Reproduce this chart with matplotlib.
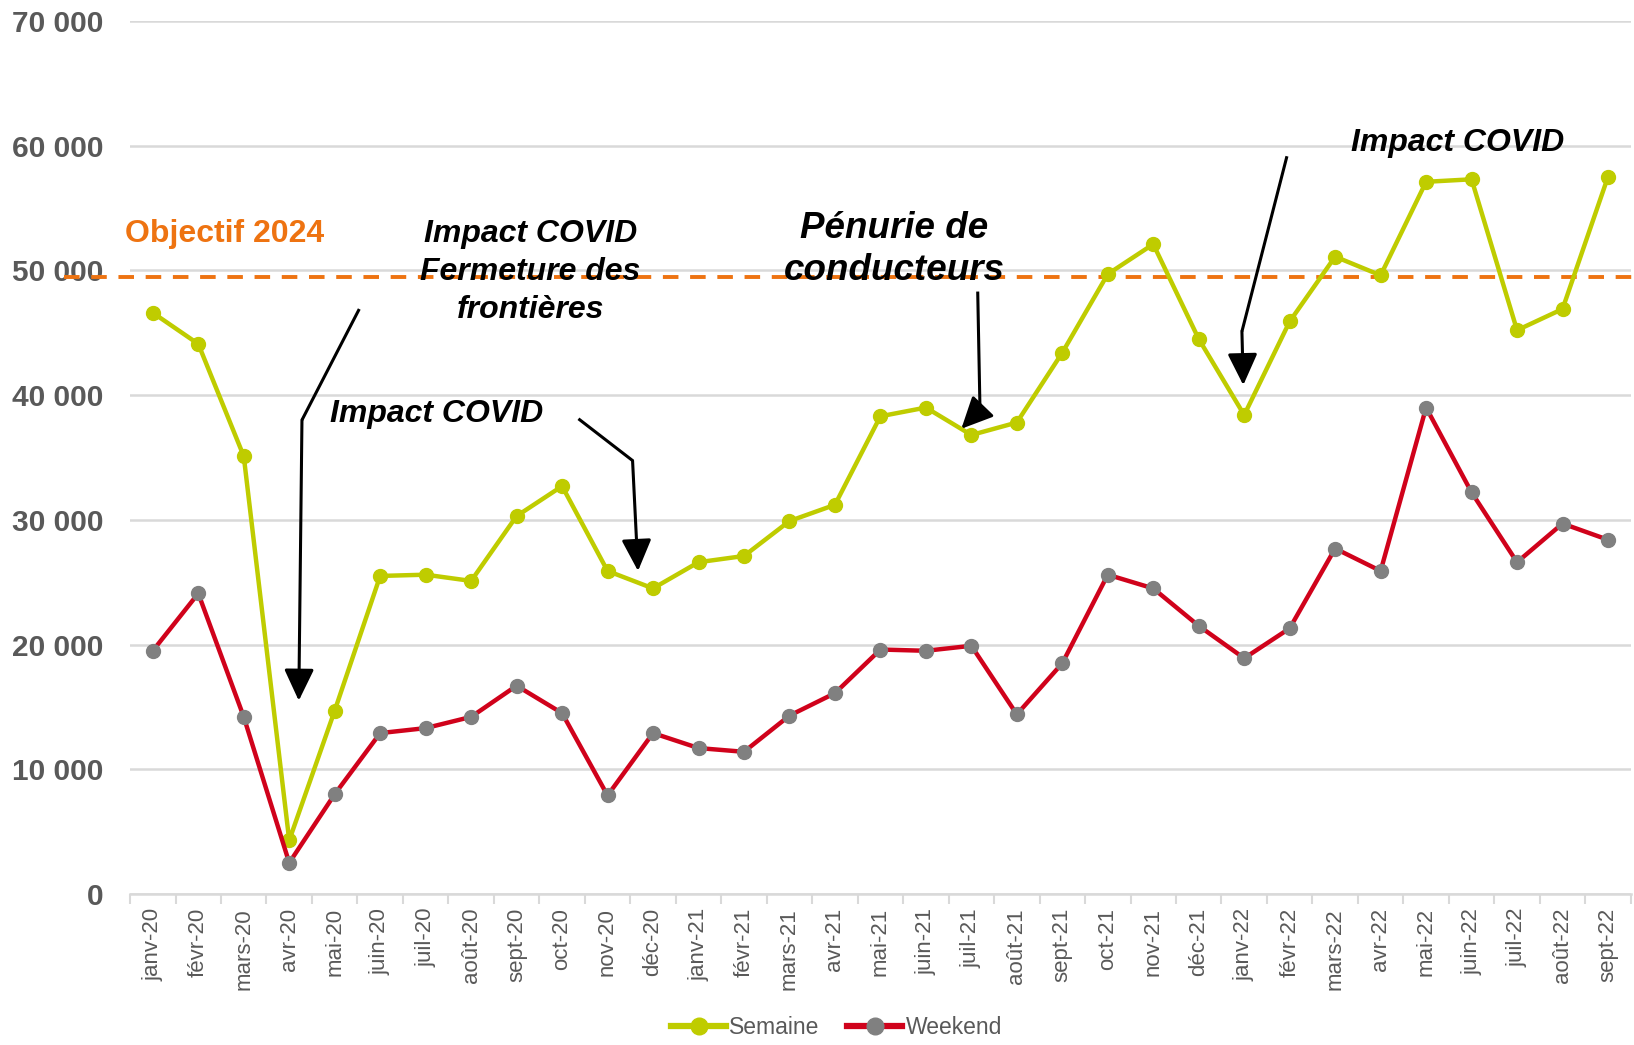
import matplotlib.pyplot as plt
from matplotlib.ticker import FuncFormatter

plt.rcParams['font.family'] = ['Liberation Sans', 'DejaVu Sans']

months = ['janv-20', 'févr-20', 'mars-20', 'avr-20', 'mai-20', 'juin-20', 'juil-20', 'août-20',
          'sept-20', 'oct-20', 'nov-20', 'déc-20', 'janv-21', 'févr-21', 'mars-21', 'avr-21',
          'mai-21', 'juin-21', 'juil-21', 'août-21', 'sept-21', 'oct-21', 'nov-21', 'déc-21',
          'janv-22', 'févr-22', 'mars-22', 'avr-22', 'mai-22', 'juin-22', 'juil-22', 'août-22',
          'sept-22']
semaine = [46600, 44100, 35100, 4300, 14700, 25500, 25600, 25100, 30300, 32700, 25900,
           24500, 26600, 27100, 29900, 31200, 38300, 39000, 36800, 37800, 43400, 49700,
           52100, 44500, 38400, 45900, 51100, 49600, 57100, 57300, 45200, 46900, 57500]
weekend = [19500, 24100, 14200, 2500, 8000, 12900, 13300, 14200, 16700, 14500, 7900,
           12900, 11700, 11400, 14300, 16100, 19600, 19500, 19900, 14400, 18500, 25600,
           24500, 21500, 18900, 21300, 27700, 25900, 39000, 32200, 26600, 29700, 28400]
objectif = 49500

GREEN = '#BFCC00'
RED = '#D0021B'
GREY_M = '#808080'
ORANGE = '#EE7311'
TXT = '#595959'

fig = plt.figure(figsize=(16.34, 10.45), dpi=100)
ax = fig.add_axes([0.0796, 0.1445, 0.9184, 0.8355])

x = list(range(len(months)))
ax.plot(x, semaine, color=GREEN, lw=3.2, marker='o', ms=10, mfc=GREEN, mec=GREEN,
        label='Semaine', zorder=4)
ax.plot(x, weekend, color=RED, lw=3.2, marker='o', ms=10, mfc=GREY_M, mec=GREY_M,
        label='Weekend', zorder=4)

# objective line (runs a bit past the left edge of the plot)
ax.plot([-1.95, 32.6], [objectif, objectif], color=ORANGE, lw=2.8, ls=(0, (4, 3)),
        clip_on=False, zorder=3)
ax.text(-0.62, 52900, 'Objectif 2024', color=ORANGE, fontsize=23, fontweight='bold',
        va='center', ha='left')

ax.set_xlim(-0.5, 32.5)
ax.set_ylim(0, 70000)
ax.set_yticks(range(0, 70001, 10000))
ax.yaxis.set_major_formatter(FuncFormatter(lambda v, p: f'{int(v):,}'.replace(',', ' ')))
ax.set_xticks(x)
ax.set_xticklabels(months, rotation=90, fontsize=16, color=TXT)
ax.set_xticks([i + 0.5 for i in range(-1, len(months))], minor=True)
ax.tick_params(axis='x', which='major', length=0, pad=10)
ax.tick_params(axis='x', which='minor', length=7, color='#D9D9D9', width=1.5)
ax.tick_params(axis='y', length=0, pad=19, labelsize=21.5, labelcolor=TXT)
for lab in ax.get_yticklabels():
    lab.set_fontweight('bold')

ax.grid(axis='y', color='#D9D9D9', lw=1.8)
ax.set_axisbelow(True)
for s in ['top', 'right', 'left']:
    ax.spines[s].set_visible(False)
ax.spines['bottom'].set_color('#D9D9D9')
ax.spines['bottom'].set_linewidth(1.8)

# annotations
txt_kw = dict(fontsize=23, fontweight='bold', fontstyle='italic', color='black',
              ha='center', va='center', zorder=5)
ax.text(8.3, 49900, 'Impact COVID\nFermeture des\nfrontières', linespacing=1.35, **txt_kw)
ax.text(6.24, 38500, 'Impact COVID', **txt_kw)
ax.text(28.7, 60200, 'Impact COVID', **txt_kw)
ax.text(16.3, 51700, 'Pénurie de\nconducteurs', linespacing=1.25,
        **{**txt_kw, 'fontsize': 26.5})

arrows = [
    [(4.54, 46900), (3.28, 38000), (3.21, 15500)],
    [(9.36, 38100), (10.55, 34750), (10.67, 25900)],
    [(18.14, 48300), (18.19, 38850), (17.78, 37300)],
    [(24.94, 59150), (23.95, 45100), (23.98, 40800)],
]
for pts in arrows:
    xs = [p[0] for p in pts[:-1]]
    ys = [p[1] for p in pts[:-1]]
    ax.plot(xs, ys, color='black', lw=2.2, zorder=5, solid_capstyle='butt')
    ax.annotate('', xy=pts[-1], xytext=pts[-2],
                arrowprops=dict(arrowstyle='-|>,head_length=0.97,head_width=0.46',
                                mutation_scale=20, color='black', lw=2.2,
                                shrinkA=0, shrinkB=0), zorder=5)

leg = fig.legend(loc='lower center', bbox_to_anchor=(0.512, -0.014), ncol=2, frameon=False,
                 fontsize=16.5, handlelength=2.4, columnspacing=1.2, handletextpad=0.15)
for t in leg.get_texts():
    t.set_color(TXT)
for h in leg.legend_handles:
    h.set_linewidth(4.5)
    h.set_markersize(12)

fig.savefig('out.png', dpi=100)
